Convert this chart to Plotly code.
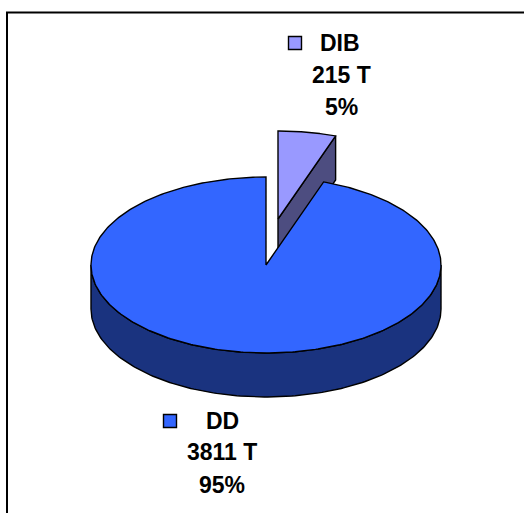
import numpy as np
import plotly.graph_objects as go

categories = ["DD", "DIB"]
tonnes = [3811, 215]
value_labels = ["3811 T", "215 T"]
percent_labels = ["95%", "5%"]

W, H = 524, 513
CX, CY, RX = 266, 265, 175
TILT = 88 / 175
DEPTH = 44 / 175
EXPLODE = (12 / 175, 46 / 175)
TOP_COL = {"DD": "#3366FF", "DIB": "#9999FF"}
WALL_COL = {"DD": "#1A337F", "DIB": "#4D4D80"}
FONT = dict(family="Liberation Sans, Arial, sans-serif", size=23, color="#000000")


def px_x(p):
    return (p - CX) / RX


def px_y(p):
    return (CY - p) / RX


def arc(a0, a1, n=160):
    t = np.radians(np.linspace(a0, a1, n))
    return np.sin(t), np.cos(t) * TILT


total = sum(tonnes)
dib_angle = 360 * tonnes[1] / total

fig = go.Figure()


def poly(x, y, fill):
    fig.add_trace(go.Scatter(
        x=list(x), y=list(y), mode="lines", fill="toself", fillcolor=fill,
        line=dict(color="#000000", width=1.4), hoverinfo="skip", showlegend=False))


# exploded DIB slice (behind the main body)
ox, oy = EXPLODE
ax, ay = arc(0, dib_angle)
ex, ey = np.sin(np.radians(dib_angle)), np.cos(np.radians(dib_angle)) * TILT
poly([ox, ox + ex, ox + ex, ox, ox],
     [oy, oy + ey, oy + ey - DEPTH, oy - DEPTH, oy], WALL_COL["DIB"])
poly(np.r_[ox, ox + ax, ox], np.r_[oy, oy + ay, oy], TOP_COL["DIB"])

# DD wall
wx, wy = arc(90, 270)
poly(np.r_[wx, wx[::-1], wx[0]], np.r_[wy, wy[::-1] - DEPTH, wy[0]], WALL_COL["DD"])

# DD top face
mx, my = arc(dib_angle, 360, 400)
poly(np.r_[0, mx, 0], np.r_[0, my, 0], TOP_COL["DD"])

# legend keys
fig.add_trace(go.Scatter(
    x=[px_x(170), px_x(295)], y=[px_y(421), px_y(43)], mode="markers",
    marker=dict(symbol="square", size=13, color=[TOP_COL[c] for c in categories],
                line=dict(color="#000000", width=1.4)),
    hoverinfo="skip", showlegend=False))

label_pos = {"DD": (222, 222, 222, 421, 452, 485), "DIB": (340, 341, 341, 43, 75, 107)}
for i, c in enumerate(categories):
    x1, x2, x3, y1, y2, y3 = label_pos[c]
    for txt, xp, yp in ((c, x1, y1), (value_labels[i], x2, y2), (percent_labels[i], x3, y3)):
        fig.add_annotation(x=px_x(xp), y=px_y(yp), text=f"<b>{txt}</b>", showarrow=False,
                           font=FONT, xanchor="center", yanchor="middle")

# frame
fig.add_shape(type="line", xref="paper", yref="paper", x0=7 / W, x1=7 / W, y0=0, y1=1 - 12.5 / H,
              line=dict(color="#000000", width=2))
fig.add_shape(type="line", xref="paper", yref="paper", x0=6 / W, x1=1, y0=1 - 12.5 / H, y1=1 - 12.5 / H,
              line=dict(color="#000000", width=2))

fig.update_layout(
    width=W, height=H, margin=dict(l=0, r=0, t=0, b=0),
    paper_bgcolor="#FFFFFF", plot_bgcolor="#FFFFFF", showlegend=False,
    xaxis=dict(range=[px_x(0), px_x(W)], visible=False, fixedrange=True),
    yaxis=dict(range=[px_y(H), px_y(0)], visible=False, fixedrange=True),
)
fig.write_html("out.html", config={"displayModeBar": False},
               post_script="document.body.style.margin='0';")
